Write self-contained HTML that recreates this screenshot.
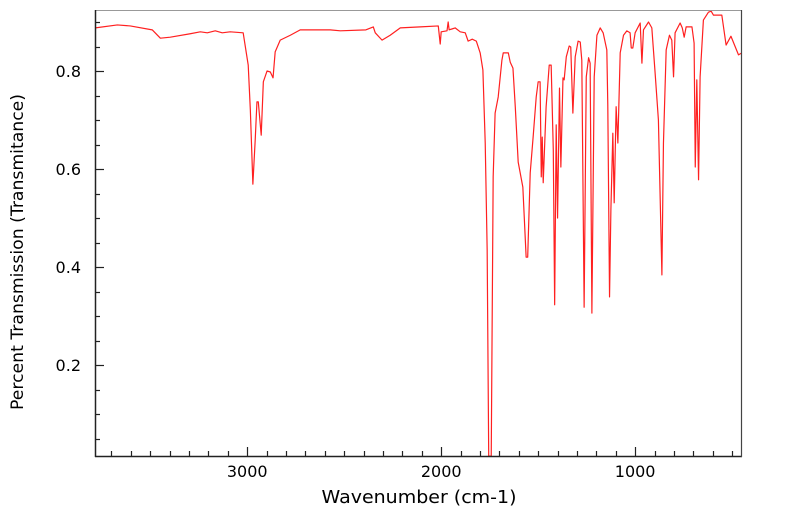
<!DOCTYPE html>
<html><head><meta charset="utf-8"><style>
body{margin:0;background:#fff;}
svg{display:block;font-family:"DejaVu Sans","Liberation Sans",sans-serif;}
</style></head><body>
<svg id="chart" width="799" height="516" viewBox="0 0 799 516" xmlns="http://www.w3.org/2000/svg">
<rect x="0" y="0" width="799" height="516" fill="#fff"/>
<g id="ticks"></g>
<path id="spectrum" fill="none" stroke="#ff2020" stroke-width="1.2" stroke-linejoin="round"/>
<rect x="95.5" y="10.5" width="646" height="446" fill="none" stroke="#999" stroke-width="1"/>
<line x1="95.5" y1="10" x2="95.5" y2="457" stroke="#222" stroke-width="1.5"/>
<line x1="95" y1="456.5" x2="742" y2="456.5" stroke="#222" stroke-width="1.5"/>
<line x1="741.5" y1="10" x2="741.5" y2="457" stroke="#444" stroke-width="1.2"/>
<text x="419" y="503" text-anchor="middle" font-size="18" textLength="195" lengthAdjust="spacingAndGlyphs" fill="#000">Wavenumber (cm-1)</text>
<text transform="translate(23,252) rotate(-90)" text-anchor="middle" font-size="17" textLength="316" lengthAdjust="spacingAndGlyphs" fill="#000">Percent Transmission (Transmitance)</text>
</svg>
<script>
const wavenumbers=[3783,3670,3603,3490,3448,3397,3294,3242,3206,3165,3129,3088,3021,2995,2984,2971,2959,2950,2943,2928,2917,2898,2881,2867,2856,2830,2778,2727,2572,2520,2388,2350,2340,2305,2263,2211,2108,2015,2005,2000,1970,1964,1959,1943,1928,1902,1876,1861,1840,1819,1799,1785,1773,1763,1755,1742,1732,1722,1706,1687,1680,1654,1644,1630,1618,1603,1579,1562,1554,1541,1526,1510,1500,1490,1484,1479,1474,1459,1443,1433,1422,1415,1407,1400,1390,1383,1372,1366,1355,1340,1332,1321,1309,1294,1283,1275,1263,1252,1240,1232,1223,1211,1197,1180,1165,1146,1141,1132,1125,1115,1108,1098,1089,1077,1060,1043,1026,1020,1012,1000,974,965,957,931,914,897,880,862,854,840,823,811,802,794,768,757,747,737,707,696,690,682,673,665,648,622,608,596,553,531,506,467,450];
const transmittance=[0.888,0.894,0.892,0.884,0.867,0.869,0.876,0.880,0.878,0.882,0.878,0.880,0.878,0.812,0.720,0.569,0.659,0.737,0.737,0.669,0.778,0.800,0.798,0.786,0.839,0.863,0.873,0.884,0.884,0.882,0.884,0.890,0.878,0.863,0.873,0.888,0.890,0.892,0.855,0.880,0.882,0.900,0.884,0.886,0.888,0.880,0.878,0.861,0.865,0.861,0.837,0.802,0.653,0.435,0.014,0.014,0.584,0.714,0.747,0.822,0.837,0.837,0.818,0.806,0.727,0.614,0.563,0.420,0.420,0.592,0.665,0.747,0.778,0.778,0.584,0.665,0.572,0.727,0.812,0.812,0.639,0.323,0.690,0.500,0.765,0.604,0.786,0.782,0.829,0.851,0.849,0.714,0.829,0.861,0.859,0.822,0.318,0.788,0.827,0.816,0.306,0.788,0.873,0.888,0.878,0.843,0.731,0.339,0.516,0.673,0.531,0.727,0.653,0.837,0.873,0.882,0.878,0.847,0.847,0.878,0.898,0.816,0.884,0.900,0.888,0.796,0.700,0.384,0.653,0.843,0.873,0.863,0.788,0.878,0.898,0.888,0.869,0.890,0.890,0.857,0.604,0.782,0.578,0.788,0.904,0.920,0.922,0.914,0.914,0.853,0.871,0.833,0.837];
const xTickLabels=[3000,2000,1000];
const yTickLabels=[0.2,0.4,0.6,0.8];

const X0=95,X1=742,Y0=10,Y1=456;
const wnLeft=3785,wnRight=449,tTop=0.9245,tBot=0.0143;
function xs(w){return X0+(wnLeft-w)/(wnLeft-wnRight)*(X1-X0);}
function ys(t){return Y0+(tTop-t)/(tTop-tBot)*(Y1-Y0);}
const NS='http://www.w3.org/2000/svg';
let d='';
for(let i=0;i<wavenumbers.length;i++){d+=(i?'L':'M')+xs(wavenumbers[i]).toFixed(2)+','+ys(transmittance[i]).toFixed(2);}
document.getElementById('spectrum').setAttribute('d',d);
const g=document.getElementById('ticks');
function line(x1,y1,x2,y2,name){const l=document.createElementNS(NS,'line');l.setAttribute('x1',x1);l.setAttribute('y1',y1);l.setAttribute('x2',x2);l.setAttribute('y2',y2);l.setAttribute('stroke','#222');l.setAttribute('stroke-width','1.2');


g.appendChild(l);}
function text(x,y,s,anchor,name){const t=document.createElementNS(NS,'text');t.setAttribute('x',x);t.setAttribute('y',y);t.setAttribute('text-anchor',anchor);t.setAttribute('font-size','16');t.textContent=s;


g.appendChild(t);}
for(let w=3700;w>=500;w-=100){const x=Math.round(xs(w))+0.5;const major=xTickLabels.includes(w);line(x,Y1,x,Y1-(major?9:5),major?'x-major-tick':'x-minor-tick');}
xTickLabels.forEach(w=>text(xs(w),477,String(w),'middle','x-tick-label'));
for(let k=1;k<=18;k++){const t=k*0.05;const y=Math.round(ys(t))+0.5;const major=yTickLabels.some(v=>Math.abs(v-t)<1e-6);line(X0,y,X0+(major?9:5),y,major?'y-major-tick':'y-minor-tick');}
yTickLabels.forEach(t=>text(81,ys(t)+6,t.toFixed(1),'end','y-tick-label'));
</script>
</body></html>
